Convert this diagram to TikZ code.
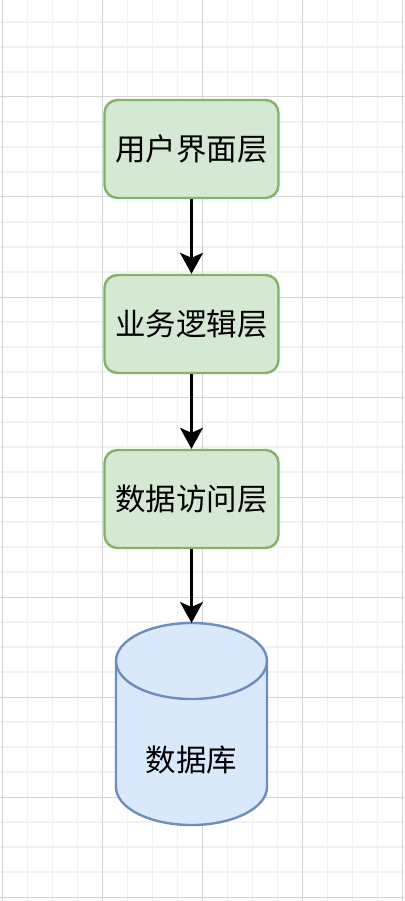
\documentclass[tikz,border=0pt]{standalone}
\usepackage{fontspec}
\newfontfamily\cjk{Noto Sans CJK SC}
\usetikzlibrary{arrows.meta}
\definecolor{layerfill}{HTML}{D5E8D4}
\definecolor{layerline}{HTML}{82B366}
\definecolor{dbfill}{HTML}{DAE8FC}
\definecolor{dbline}{HTML}{6C8EBF}
\definecolor{gridminor}{HTML}{F2F2F2}
\definecolor{gridmajor}{HTML}{D4D4D4}
\begin{document}
\begin{tikzpicture}[x=1pt, y=1pt, >={Stealth[length=21pt,width=23pt,inset=5pt]},
    every node/.style={font=\cjk\fontsize{30.5}{36}\selectfont},
    layer/.style={draw=layerline, fill=layerfill, line width=2.4pt, rounded corners=13pt,
        minimum width=174pt, minimum height=98pt, inner sep=0pt},
    flow/.style={->, line width=2.2pt}]
        \useasboundingbox (0,0) rectangle (404,-901);
        \fill[white] (0,0) rectangle (404,-901);
        % grid
        \foreach \gx in {27.5,52.5,77.5,127.5,152.5,177.5,227.5,252.5,277.5,327.5,352.5,377.5}
            \draw[gridminor, line width=1.2pt] (\gx,0) -- (\gx,-901);
        \foreach \gy in {22,47,72,122,147,172,222,247,272,322,347,372,422,447,472,522,547,572,622,647,672,722,747,772,822,847,872}
            \draw[gridminor, line width=1.2pt] (0,-\gy) -- (404,-\gy);
        \foreach \gx in {2.5,102.5,202.5,302.5,402.5}
            \draw[gridmajor, line width=1pt] (\gx,0) -- (\gx,-901);
        \foreach \gy in {97,197,297,397,497,597,697,797,897}
            \draw[gridmajor, line width=1pt] (0,-\gy) -- (404,-\gy);
        % layers
        \node[layer] (ui) at (191.5,-149) {用户界面层};
        \node[layer] (logic) at (191.5,-324) {业务逻辑层};
        \node[layer] (dal) at (191.5,-499) {数据访问层};
        % database
        \filldraw[draw=dbline, fill=dbfill, line width=2.4pt] (116,-661) -- (116,-787)
            arc[start angle=180, end angle=360, x radius=75.5, y radius=38] -- (267,-661)
            arc[start angle=0, end angle=180, x radius=75.5, y radius=38] -- cycle;
        \draw[dbline, line width=2.4pt] (116,-661) arc[start angle=180, end angle=360, x radius=75.5, y radius=38];
        \coordinate (dbtop) at (191.5,-623);
        \node (db) at (191.5,-760) {数据库};
        % arrows
        \draw[flow] (ui) -- (logic);
        \draw[flow] (logic) -- (dal);
        \draw[flow] (dal) -- (dbtop);
    \end{tikzpicture}
\end{document}
